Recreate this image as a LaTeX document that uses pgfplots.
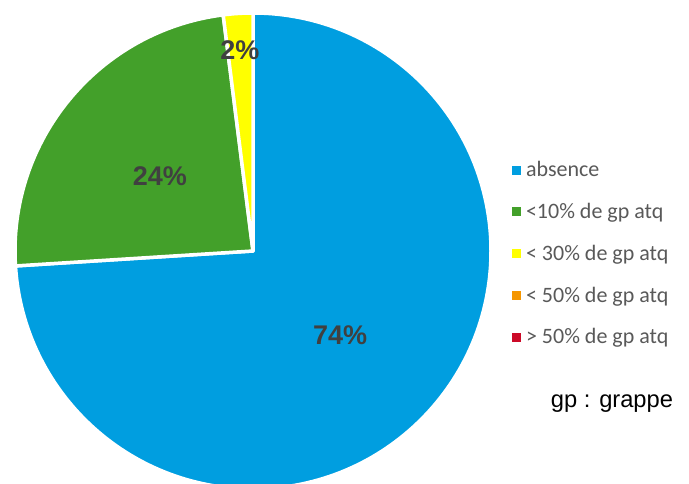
\documentclass[border=0pt]{standalone}
\usepackage{pgfplots}
\pgfplotsset{compat=1.18}
\usepackage{pgfplotstable}
\usepackage{fontspec}
\setmainfont{Liberation Sans}
\newfontfamily\carlito{Carlito}

\definecolor{cblue}{RGB}{0,158,224}
\definecolor{cgreen}{RGB}{67,160,42}
\definecolor{cyellow}{RGB}{255,255,0}
\definecolor{corange}{RGB}{245,150,0}
\definecolor{cred}{RGB}{204,10,40}
\definecolor{labgrey}{RGB}{64,64,64}
\definecolor{leggrey}{RGB}{89,89,89}

% shares in percent, clockwise from 12 o'clock
\pgfplotstableread{
share
74
24
2
}\piedata
\pgfplotstablegetelem{0}{share}\of\piedata \pgfmathsetmacro\aA{90-3.6*\pgfplotsretval}
\pgfplotstablegetelem{1}{share}\of\piedata \pgfmathsetmacro\aB{\aA-3.6*\pgfplotsretval}
\pgfplotstablegetelem{2}{share}\of\piedata \pgfmathsetmacro\aC{\aB-3.6*\pgfplotsretval}

\def\R{238pt}

\begin{document}
\begin{tikzpicture}
\useasboundingbox (0,0) rectangle (689pt,484pt);
\begin{scope}[overlay]
\begin{axis}[
  at={(253pt,233pt)}, anchor=origin,
  x=\R, y=\R,
  xmin=-1, xmax=1, ymin=-1, ymax=1,
  hide axis, clip=false,
  legend style={at={(1.037,0.495)}, anchor=west, draw=none, fill=none,
    font=\carlito\fontsize{22}{26}\selectfont, text=leggrey,
    row sep=21pt, cells={anchor=west}},
]
\fill[cblue, draw=white, line width=3.5pt, line join=round]
  (axis cs:0,0) -- ++(90:\R) arc[start angle=90, end angle=\aA, radius=\R] -- cycle;
\fill[cgreen, draw=white, line width=3.5pt, line join=round]
  (axis cs:0,0) -- ++(\aA:\R) arc[start angle=\aA, end angle=\aB, radius=\R] -- cycle;
\fill[cyellow, draw=white, line width=3.5pt, line join=round]
  (axis cs:0,0) -- ++(\aB:\R) arc[start angle=\aB, end angle=\aC, radius=\R] -- cycle;

\node[font=\bfseries\fontsize{27}{27}\selectfont, text=labgrey] at (axis cs:0.366,-0.353) {74\%};
\node[font=\bfseries\fontsize{27}{27}\selectfont, text=labgrey] at (axis cs:-0.391,0.315) {24\%};
\node[font=\bfseries\fontsize{27}{27}\selectfont, text=labgrey] at (axis cs:-0.055,0.845) {2\%};

\addlegendimage{legend image code/.code={\fill[cblue] (0pt,-4pt) rectangle (8pt,4pt); \path[draw=none,fill=none] (0pt,0pt) -- (12pt,0pt);}}
\addlegendentry{absence}
\addlegendimage{legend image code/.code={\fill[cgreen] (0pt,-4pt) rectangle (8pt,4pt); \path[draw=none,fill=none] (0pt,0pt) -- (12pt,0pt);}}
\addlegendentry{<10\% de gp atq}
\addlegendimage{legend image code/.code={\fill[cyellow] (0pt,-4pt) rectangle (8pt,4pt); \path[draw=none,fill=none] (0pt,0pt) -- (12pt,0pt);}}
\addlegendentry{< 30\% de gp atq}
\addlegendimage{legend image code/.code={\fill[corange] (0pt,-4pt) rectangle (8pt,4pt); \path[draw=none,fill=none] (0pt,0pt) -- (12pt,0pt);}}
\addlegendentry{< 50\% de gp atq}
\addlegendimage{legend image code/.code={\fill[cred] (0pt,-4pt) rectangle (8pt,4pt); \path[draw=none,fill=none] (0pt,0pt) -- (12pt,0pt);}}
\addlegendentry{> 50\% de gp atq}
\end{axis}
\end{scope}
\node[overlay, font=\fontsize{23.7}{28}\selectfont, anchor=base] at (612pt,76pt) {gp : grappe};
\end{tikzpicture}
\end{document}
